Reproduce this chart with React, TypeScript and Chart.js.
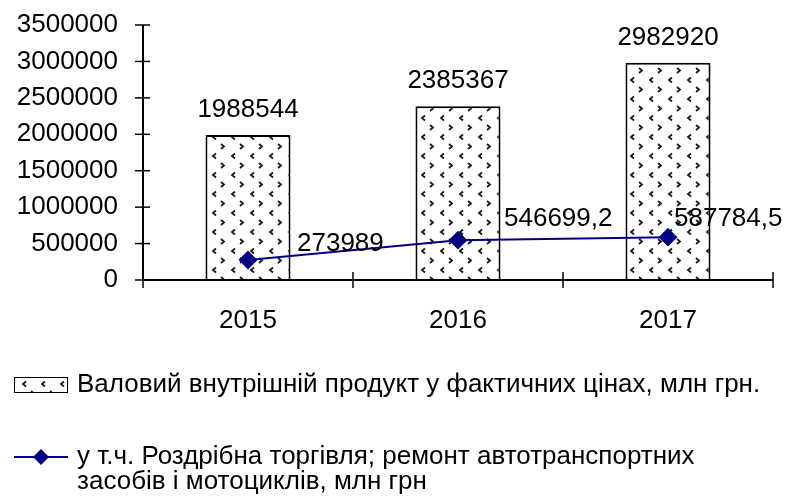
import React, { useEffect, useRef } from "react";
import { Chart, registerables } from "chart.js";

Chart.register(...registerables);

const years = ["2015", "2016", "2017"];
const gdp = [1988544, 2385367, 2982920];
const retail = [273989, 546699.2, 587784.5];
const yTicks = [0, 500000, 1000000, 1500000, 2000000, 2500000, 3000000, 3500000];
const gdpLabel = "Валовий внутрішній продукт у фактичних цінах, млн грн.";
const retailLabelLines = [
  "у т.ч. Роздрібна торгівля; ремонт автотранспортних",
  "засобів і мотоциклів, млн грн",
];

const FONT_FAMILY = "'Liberation Sans', Arial, sans-serif";
const FONT_SIZE = 26;
const NAVY = "#000080";

function makePattern(): CanvasPattern | string {
  const c = document.createElement("canvas");
  c.width = 19;
  c.height = 19;
  const g = c.getContext("2d");
  if (!g) return "#fff";
  g.fillStyle = "#fff";
  g.fillRect(0, 0, 19, 19);
  g.strokeStyle = "#1a1a1a";
  g.lineWidth = 1.8;
  g.beginPath();
  g.moveTo(7, 1.5);
  g.lineTo(4, 4);
  g.lineTo(7, 6.5);
  g.stroke();
  g.beginPath();
  g.moveTo(12, 11);
  g.lineTo(15, 13.5);
  g.lineTo(12, 16);
  g.stroke();
  const p = g.createPattern(c, "repeat");
  return p || "#fff";
}

export default function App() {
  const ref = useRef<HTMLCanvasElement | null>(null);

  useEffect(() => {
    if (!ref.current) return;
    const pattern = makePattern();

    const axesPlugin = {
      id: "customAxes",
      afterDatasetsDraw(chart: any) {
        const { ctx, chartArea } = chart;
        const ys = chart.scales.y;
        const { left, right, bottom } = chartArea;
        ctx.save();
        ctx.strokeStyle = "#000";
        ctx.lineWidth = 2;
        ctx.beginPath();
        ctx.moveTo(left, ys.getPixelForValue(yTicks[yTicks.length - 1]));
        ctx.lineTo(left, bottom);
        ctx.stroke();
        ctx.beginPath();
        ctx.moveTo(left, bottom);
        ctx.lineTo(right, bottom);
        ctx.stroke();
        ctx.lineWidth = 1.5;
        yTicks.forEach((v) => {
          const y = ys.getPixelForValue(v);
          ctx.beginPath();
          ctx.moveTo(left - 8, y);
          ctx.lineTo(left + 7, y);
          ctx.stroke();
        });
        const n = years.length;
        for (let i = 0; i <= n; i++) {
          const x = left + ((right - left) * i) / n;
          ctx.beginPath();
          ctx.moveTo(x, bottom - 8);
          ctx.lineTo(x, bottom + 8);
          ctx.stroke();
        }
        ctx.restore();
      },
    };

    const labelsPlugin = {
      id: "valueLabels",
      afterDraw(chart: any) {
        const { ctx } = chart;
        ctx.save();
        ctx.fillStyle = "#000";
        ctx.font = `${FONT_SIZE}px ${FONT_FAMILY}`;
        ctx.textBaseline = "middle";
        const barMeta = chart.getDatasetMeta(1);
        barMeta.data.forEach((el: any, i: number) => {
          ctx.textAlign = "center";
          ctx.fillText(String(gdp[i]), el.x, el.y - 25);
        });
        const lineMeta = chart.getDatasetMeta(0);
        const dx = [49, 46, 6];
        const dy = [-16, -21, -18];
        lineMeta.data.forEach((el: any, i: number) => {
          ctx.textAlign = "left";
          ctx.fillText(String(retail[i]).replace(".", ","), el.x + dx[i], el.y + dy[i]);
        });

        ctx.textAlign = "left";
        ctx.fillStyle = pattern as any;
        ctx.fillRect(14, 377, 53, 15);
        ctx.strokeStyle = "#000";
        ctx.lineWidth = 1;
        ctx.strokeRect(14.5, 377.5, 53, 15);
        ctx.fillStyle = "#000";
        ctx.fillText(gdpLabel, 77, 385);

        ctx.strokeStyle = NAVY;
        ctx.lineWidth = 2;
        ctx.beginPath();
        ctx.moveTo(14, 457);
        ctx.lineTo(68, 457);
        ctx.stroke();
        ctx.fillStyle = NAVY;
        ctx.beginPath();
        ctx.moveTo(41, 449);
        ctx.lineTo(49, 457);
        ctx.lineTo(41, 465);
        ctx.lineTo(33, 457);
        ctx.closePath();
        ctx.fill();
        ctx.fillStyle = "#000";
        ctx.fillText(retailLabelLines[0], 77, 457);
        ctx.fillText(retailLabelLines[1], 77, 482);
        ctx.restore();
      },
    };

    const chart = new Chart(ref.current, {
      type: "bar",
      data: {
        labels: years,
        datasets: [
          {
            type: "line",
            label: retailLabelLines.join(" "),
            data: retail,
            borderColor: NAVY,
            backgroundColor: NAVY,
            borderWidth: 2,
            pointStyle: "rectRot",
            pointRadius: 8,
            pointBackgroundColor: NAVY,
            pointBorderColor: NAVY,
            order: 0,
          } as any,
          {
            type: "bar",
            label: gdpLabel,
            data: gdp,
            backgroundColor: pattern as any,
            borderColor: "#000",
            borderWidth: 2,
            barPercentage: 0.405,
            categoryPercentage: 1,
            order: 1,
          },
        ],
      },
      options: {
        animation: false,
        responsive: false,
        maintainAspectRatio: false,
        layout: { padding: { left: 0, right: 16, top: 25, bottom: 0 } },
        plugins: {
          legend: { display: false },
          tooltip: { enabled: false },
          title: { display: false },
        },
        scales: {
          x: {
            type: "category",
            offset: true,
            grid: { display: false, drawTicks: false },
            border: { display: false },
            ticks: {
              color: "#000",
              font: { family: FONT_FAMILY, size: FONT_SIZE },
              padding: 25,
              autoSkip: false,
              maxRotation: 0,
            },
            afterFit: (s: any) => {
              s.height = 220;
            },
          },
          y: {
            min: 0,
            max: 3500000,
            grid: { display: false, drawTicks: false },
            border: { display: false },
            afterBuildTicks: (s: any) => {
              s.ticks = yTicks.map((v) => ({ value: v }));
            },
            ticks: {
              color: "#000",
              font: { family: FONT_FAMILY, size: FONT_SIZE },
              padding: 25,
              autoSkip: false,
              callback: (v: any) => String(v),
            },
            afterFit: (s: any) => {
              s.width = 143;
              s.paddingTop = 0;
              s.paddingBottom = 0;
            },
          },
        },
      },
      plugins: [axesPlugin, labelsPlugin],
    });
    return () => chart.destroy();
  }, []);

  return (
    <div style={{ position: "absolute", left: 0, top: 0, width: 789, height: 500, background: "#fff" }}>
      <canvas ref={ref} width={789} height={500} style={{ width: 789, height: 500, display: "block" }} />
    </div>
  );
}
